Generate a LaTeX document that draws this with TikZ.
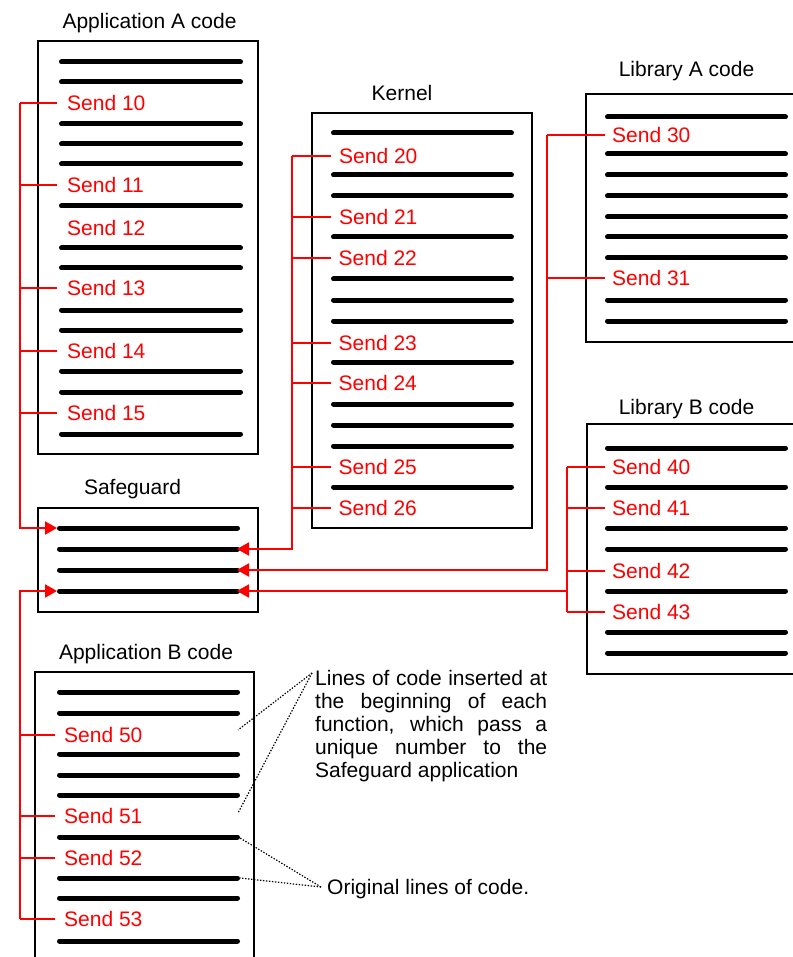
\documentclass[tikz,border=0pt]{standalone}
\usepackage{fontspec}
\setmainfont{Liberation Sans}
\usetikzlibrary{arrows.meta}
\begin{document}
\begin{tikzpicture}[x=1pt,y=-1pt,
  box/.style={draw=black,line width=1.4pt},
  codeline/.style={line width=5pt,line cap=round},
  send/.style={text=red,font=\fontsize{21}{25}\selectfont,anchor=west,inner xsep=#1,inner ysep=0pt},
  send/.default=9pt,
  title/.style={font=\fontsize{21}{25}\selectfont,anchor=base,inner sep=0pt},
  branch/.style={draw=red,line width=2pt},
  toSG/.style={branch,-{Triangle[length=12pt,width=13pt]}},
  note/.style={line width=1.2pt,dash pattern=on 1.4pt off 1.6pt}]
\useasboundingbox (0,0) rectangle (792,957);

% ---------- boxes ----------
\draw[box] (38,41) rectangle (258,454);
\draw[box] (38,508) rectangle (258,612);
\draw[box] (312,113) rectangle (532,528);
\draw[box] (795,94) -- (586,94) -- (586,342) -- (795,342);
\draw[box] (795,424) -- (587,424) -- (587,674) -- (795,674);
\draw[box] (35,962) -- (35,672) -- (254,672) -- (254,962);

% ---------- titles ----------
\node[title] (tA) at (149.5,29) {Application A code};
\node[title] (tK) at (402,101) {Kernel};
\node[title] (tLA) at (686.5,77) {Library A code};
\node[title] (tLB) at (686.5,414) {Library B code};
\node[title] (tS) at (132.5,494) {Safeguard};
\node[title] (tB) at (146,659) {Application B code};

% ---------- code lines ----------
\foreach \y in {62,82,124,144,164,206,248,268,310,330,371,392,434}
  \draw[codeline] (61.5,\y) -- (240.5,\y);
\foreach \y in {133,175,196,237,279,300,321,362,404,425,446,487}
  \draw[codeline] (333.5,\y) -- (511.5,\y);
\foreach \y in {117,154,175,196,217,237,258,300,321}
  \draw[codeline] (607.5,\y) -- (785.5,\y);
\foreach \y in {448,487,528,549,591,632,653}
  \draw[codeline] (607.5,\y) -- (785.5,\y);
\foreach \y in {528,549,570,591}
  \draw[codeline] (59.5,\y) -- (237.5,\y);
\foreach \y in {692,713,754,775,795,837,878,898,941}
  \draw[codeline] (59.5,\y) -- (237.5,\y);

% ---------- send labels ----------
\node[send=10pt] (s10) at (57,103) {Send 10};
\node[send=10pt] (s11) at (57,185) {Send 11};
\node[send=10pt] (s12) at (57,228) {Send 12};
\node[send=10pt] (s13) at (57,288) {Send 13};
\node[send=10pt] (s14) at (57,351) {Send 14};
\node[send=10pt] (s15) at (57,413) {Send 15};

\node[send=8pt] (s20) at (331,156) {Send 20};
\node[send=8pt] (s21) at (331,217) {Send 21};
\node[send=7.5pt] (s22) at (331,258) {Send 22};
\node[send=7.5pt] (s23) at (331,343) {Send 23};
\node[send=7.5pt] (s24) at (331,383) {Send 24};
\node[send=7.5pt] (s25) at (331,467) {Send 25};
\node[send=7.5pt] (s26) at (331,508) {Send 26};

\node[send=7pt] (s30) at (605,135) {Send 30};
\node[send=7pt] (s31) at (605,278) {Send 31};

\node[send=7pt] (s40) at (605,467) {Send 40};
\node[send=7pt] (s41) at (605,508) {Send 41};
\node[send=7pt] (s42) at (605,571) {Send 42};
\node[send=7pt] (s43) at (605,612) {Send 43};

\node[send=9pt] (s50) at (55,735) {Send 50};
\node[send=9pt] (s51) at (55,816) {Send 51};
\node[send=9pt] (s52) at (55,858) {Send 52};
\node[send=9pt] (s53) at (55,919) {Send 53};

% ---------- safeguard entry points ----------
\coordinate (sg1w) at (57,528);
\coordinate (sg4w) at (57,591);
\coordinate (sg2e) at (237,549);
\coordinate (sg3e) at (237,570);
\coordinate (sg4e) at (237,591);

% ---------- branch x positions ----------
\coordinate (brA) at (20,0);
\coordinate (brK) at (292,0);
\coordinate (brLA) at (547,0);
\coordinate (brLB) at (567,0);

% ---------- red connectors ----------
\foreach \n in {s10,s11,s13,s14,s15}
  \draw[branch] (\n.west -| brA) -- (\n.west);
\draw[toSG] (s10.west -| brA) |- (sg1w);

\foreach \n in {s20,s21,s22,s23,s24,s25,s26}
  \draw[branch] (\n.west -| brK) -- (\n.west);
\draw[toSG] (s20.west -| brK) |- (sg2e);

\foreach \n in {s30,s31}
  \draw[branch] (\n.west -| brLA) -- (\n.west);
\draw[toSG] (s30.west -| brLA) |- (sg3e);

\foreach \n in {s40,s41,s42,s43}
  \draw[branch] (\n.west -| brLB) -- (\n.west);
\draw[branch] (s40.west -| brLB) -- (s43.west -| brLB);
\draw[toSG] (sg4e -| brLB) -- (sg4e);

\foreach \n in {s50,s51,s52,s53}
  \draw[branch] (\n.west -| brA) -- (\n.west);
\draw[toSG] (s53.west -| brA) |- (sg4w);

% ---------- annotations ----------
\node[anchor=north west,inner sep=0pt,text width=232pt,
      font=\fontsize{21}{23}\selectfont] (ann) at (315,670)
  {\spaceskip=0pt\xspaceskip=0pt\parindent=0pt\rightskip=0pt
   \makebox[232pt][s]{Lines of code inserted at}\par
   \makebox[232pt][s]{the beginning of each}\par
   \makebox[232pt][s]{function, which pass a}\par
   \makebox[232pt][s]{unique number to the}\par
   Safeguard application};
\node[anchor=base west,inner sep=0pt,font=\fontsize{21}{25}\selectfont] (orig) at (327,894.5)
  {Original lines of code.};

\coordinate (annP) at (312,673);
\coordinate (n50) at (238,730);
\coordinate (n51) at (238,813);
\coordinate (origP) at (321,887);
\coordinate (o1) at (240,838);
\coordinate (o2) at (240,878);
\draw[note] (annP) -- (n50);
\draw[note] (annP) -- (n51);
\draw[note] (origP) -- (o1);
\draw[note] (origP) -- (o2);
\end{tikzpicture}
\end{document}
